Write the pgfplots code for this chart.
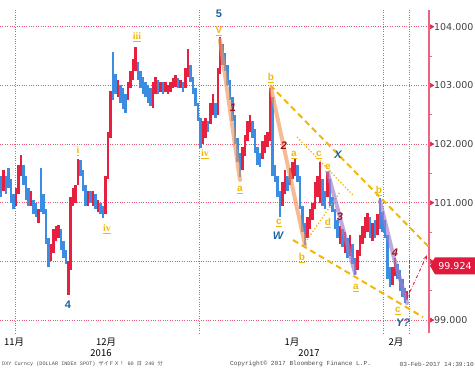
\documentclass[border=0pt]{standalone}
\usepackage{pgfplots}
\usepackage{pgfplotstable}
\pgfplotsset{compat=1.18}
\usepackage{fontspec}
\usetikzlibrary{arrows.meta}
\newfontfamily\cjk{Noto Sans CJK JP}
\newfontfamily\dejavu{DejaVu Sans}
\newfontfamily\libsans{Liberation Sans}
\newfontfamily\libserif{Liberation Serif}
\newfontfamily\mono{Liberation Mono}
\definecolor{upred}{RGB}{232,32,64}
\definecolor{dnblue}{RGB}{60,140,225}
\definecolor{gridpink}{RGB}{230,90,120}
\definecolor{axpink}{RGB}{235,100,130}
\definecolor{gold}{RGB}{240,185,10}
\definecolor{wblue}{RGB}{25,100,160}
\definecolor{wred}{RGB}{160,15,30}
\definecolor{orangeline}{RGB}{240,150,90}
\definecolor{purpline}{RGB}{160,125,200}
\definecolor{tagred}{RGB}{225,25,60}

\pgfplotstableread{
x l h
3.5 101.20 101.55
16 100.95 101.25
18.5 101.15 101.65
21 101.45 101.82
31 100.95 101.20
38.5 100.65 100.90
51 100.00 100.30
53.5 100.15 100.55
56 100.35 100.60
58.5 100.40 100.62
68.5 99.43 100.00
70.5 99.85 101.10
73 100.95 101.25
75.5 101.00 101.30
78 101.30 101.75
88 100.95 101.20
93 100.95 101.20
98 100.85 101.05
105.5 100.80 101.45
108 101.40 102.20
110.5 102.10 102.90
118 102.80 103.10
128 102.75 103.05
130.5 102.95 103.25
133 103.10 103.45
135.5 103.25 103.66
153 102.62 103.05
155.5 102.85 103.15
160.5 102.88 103.05
165.5 102.88 103.05
168 102.85 103.00
170.5 102.88 103.05
173 102.95 103.12
175.5 102.98 103.18
180.5 102.95 103.10
185.5 102.95 103.30
188 103.15 103.62
203 102.00 102.40
205.5 102.10 102.45
210.5 102.35 102.70
213 102.50 102.85
218 102.50 103.30
220 103.20 103.83
242.5 101.55 101.95
245 101.80 102.15
247.5 102.05 102.40
250 102.20 102.50
262.5 101.75 102.05
265 101.85 102.15
267.5 101.95 102.20
270 102.05 102.96
282.5 100.95 101.35
285 101.15 101.55
290 101.30 101.60
292.5 101.40 101.70
295 101.45 101.76
307.5 100.40 100.75
310 100.55 100.90
312.5 100.70 101.00
315 100.90 101.35
317.5 101.10 101.45
320 101.00 101.70
327.5 101.10 101.53
340 100.30 100.60
345 100.15 100.50
350 100.10 100.45
357.5 99.85 100.20
360 100.10 100.45
362.5 100.30 100.60
365 100.40 100.75
367.5 100.50 100.83
372.5 100.35 100.65
377.5 100.45 100.80
392.5 99.60 99.90
395 99.75 100.06
407 99.35 99.50
}\upt

\pgfplotstableread{
x l h
1 101.10 101.45
6 101.15 101.45
8.5 101.25 101.60
11 101.00 101.40
13.5 100.90 101.15
23.5 101.30 101.65
26 101.05 101.45
28.5 100.95 101.25
33.5 100.80 101.05
36 100.75 101.00
41 100.85 101.60
43.5 100.80 101.15
46 100.30 100.90
48.5 99.90 100.40
61 100.20 100.55
63.5 100.05 100.35
66 99.95 100.20
80.5 101.45 101.72
83 101.20 101.55
85.5 100.95 101.30
90.5 101.00 101.20
95.5 100.90 101.15
100.5 100.80 101.00
103 100.74 100.95
113 102.75 103.57
115.5 102.85 103.20
120.5 102.70 103.00
123 102.60 102.95
125.5 102.53 102.85
138 103.10 103.40
140.5 102.95 103.25
143 102.85 103.15
145.5 102.80 103.05
148 102.70 103.00
150.5 102.65 102.95
158 102.85 103.10
163 102.85 103.05
178 102.95 103.12
183 102.88 103.05
190.5 103.05 103.35
193 102.85 103.15
195.5 102.65 102.95
198 102.40 102.70
200.5 101.94 102.45
208 102.20 102.40
215.5 102.45 102.70
222.5 103.35 103.70
225 103.25 103.55
227.5 103.00 103.35
230 102.75 103.10
232.5 102.40 102.80
235 102.00 102.50
237.5 101.70 102.10
240 101.44 101.85
252.5 102.10 102.40
255 101.85 102.25
257.5 101.65 101.95
260 101.61 101.85
272.5 101.45 102.80
275 101.35 101.65
277.5 101.10 101.45
280 100.76 101.20
287.5 101.20 101.45
297.5 101.35 101.65
300 100.90 101.45
302.5 100.50 100.95
305 100.28 100.65
322.5 100.95 101.40
325 100.90 101.20
330 100.95 101.40
332.5 100.84 101.10
335 100.55 100.90
337.5 100.40 100.70
342.5 100.25 100.55
347.5 100.05 100.40
352.5 99.95 100.30
355 99.77 100.05
370 100.40 100.75
375 100.40 100.70
380 100.55 101.08
382.5 100.50 100.85
385 100.40 100.70
387.5 99.70 100.45
390 99.56 99.90
397.5 99.70 99.95
400 99.50 99.85
402.5 99.40 99.70
405 99.29 99.55
}\dnt

\begin{document}
\begin{tikzpicture}
\useasboundingbox (0,-39bp) rectangle (475bp,333bp);
\begin{axis}[
  at={(0,0)}, anchor=south west,
  scale only axis, width=429bp, height=323bp,
  xmin=0, xmax=429, ymin=98.78, ymax=104.285,
  clip=false,
  axis line style={draw=none},
  xtick={15,199,383,409}, xticklabels={,,,}, xtick style={draw=none},
  ytick={99,100,101,102,103,104}, yticklabels={,,,,,},
  minor y tick num=1,
  ytick pos=right, tick align=outside,
  major tick length=0pt, minor tick length=3bp,
  y tick style={draw=axpink, line width=0.8bp},
  xmajorgrids, ymajorgrids,
  major grid style={draw=gridpink, dotted, line width=0.7bp},
]
% candles
\addplot[draw=none, mark=none, forget plot,
  error bars/.cd, y dir=plus, y explicit, error mark=none,
  error bar style={draw=dnblue, line width=2.3bp}]
  table[x=x, y=l, y error expr=\thisrow{h}-\thisrow{l}] {\dnt};
\addplot[draw=none, mark=none, forget plot,
  error bars/.cd, y dir=plus, y explicit, error mark=none,
  error bar style={draw=upred, line width=2.3bp}]
  table[x=x, y=l, y error expr=\thisrow{h}-\thisrow{l}] {\upt};

% right axis line and triangle ticks
\draw[axpink, line width=1.2bp] (axis cs:429,98.78) -- (axis cs:429,104.285);
\addplot[only marks, mark=triangle*, mark size=2.4bp, color=upred,
  mark options={rotate=-90}, forget plot]
  coordinates {(431.5,99) (431.5,100) (431.5,101) (431.5,102) (431.5,103) (431.5,104)};

% channel lines
\draw[gold, dashed, line width=2bp, dash pattern=on 6bp off 4bp]
  (axis cs:270,103.006) -- (axis cs:430,100.227);
\draw[gold, dashed, line width=2bp, dash pattern=on 6bp off 4bp]
  (axis cs:293,100.364) -- (axis cs:423,99.051);
\draw[gold, dotted, line width=1.3bp] (axis cs:297,102.120) -- (axis cs:353,101.131);
\draw[gold, dotted, line width=1.3bp] (axis cs:307,100.364) -- (axis cs:340,101.182);

% wave lines
\draw[orangeline, opacity=0.65, line width=4bp, line cap=round]
  (axis cs:220,103.773) -- (axis cs:240,101.387);
\draw[orangeline, opacity=0.65, line width=4bp, line cap=round]
  (axis cs:271,102.955) -- (axis cs:305,100.279);
\draw[purpline, opacity=0.65, line width=4bp, line cap=round]
  (axis cs:328,101.506) -- (axis cs:355,99.801);
\draw[purpline, opacity=0.65, line width=4bp, line cap=round, line join=round]
  (axis cs:380,101.029) -- (axis cs:394,100.057) -- (axis cs:407,99.290);

% projection arrow
\draw[tagred, densely dashed, line width=0.8bp] (axis cs:409,99.375) -- (axis cs:409,100.023);
\draw[tagred, dash dot, line width=0.9bp, -{Stealth[length=5bp]}]
  (axis cs:407,99.375) -- (axis cs:427,100.108);

% gold labels
\begin{scope}[every node/.style={text=gold, font=\libsans\bfseries\fontsize{10}{10}\selectfont, inner sep=0pt}]
\node at (axis cs:78,101.881) {\libserif\underline{i}};
\node at (axis cs:137,103.824) {\libserif\underline{iii}};
\node at (axis cs:107,100.551) {\libserif\underline{iv}};
\node at (axis cs:205,101.830) {\libserif\underline{iv}};
\node at (axis cs:219,103.927) {\underline{V}};
\node at (axis cs:240,101.216) {\underline{a}};
\node at (axis cs:271,103.125) {\underline{b}};
\node at (axis cs:279,100.654) {\underline{c}};
\node at (axis cs:294,101.813) {\underline{a}};
\node at (axis cs:319,101.813) {\underline{c}};
\node at (axis cs:328,101.591) {\underline{e}};
\node at (axis cs:328,100.654) {\underline{d}};
\node at (axis cs:302,100.057) {\underline{b}};
\node at (axis cs:356,99.545) {\underline{a}};
\node at (axis cs:379,101.199) {\underline{b}};
\node at (axis cs:398,99.153) {\underline{c}};
\end{scope}

% blue labels
\begin{scope}[every node/.style={text=wblue, font=\libsans\bfseries\fontsize{11}{11}\selectfont, inner sep=0pt}]
\node at (axis cs:219,104.217) {5};
\node at (axis cs:68,99.256) {4};
\node at (axis cs:278,100.432) {\itshape W};
\node at (axis cs:338,101.813) {\itshape X};
\node at (axis cs:403,98.949) {\itshape Y?};
\end{scope}

% red wave numbers
\begin{scope}[every node/.style={text=wred, font=\libsans\bfseries\itshape\fontsize{11}{11}\selectfont, inner sep=0pt}]
\node at (axis cs:233,102.614) {1};
\node at (axis cs:284,101.966) {2};
\node at (axis cs:340,100.756) {3};
\node at (axis cs:395,100.142) {4};
\end{scope}

% right tick labels
\begin{scope}[every node/.style={anchor=west, text=black!75, font=\dejavu\fontsize{9.5}{10}\selectfont, inner sep=0pt}]
\node at (axis cs:434,104) {104.000};
\node at (axis cs:434,103) {103.000};
\node at (axis cs:434,102) {102.000};
\node at (axis cs:434,101) {101.000};
\node at (axis cs:434,99) {99.000};
\end{scope}

% price tag
\fill[tagred] (axis cs:430,99.924) -- (axis cs:435,100.07) -- (axis cs:475,100.07)
  -- (axis cs:475,99.78) -- (axis cs:435,99.78) -- cycle;
\node[text=white, font=\dejavu\fontsize{9.5}{10}\selectfont, inner sep=0pt]
  at (axis cs:455,99.924) {99.924};

% month and year labels
\begin{scope}[every node/.style={text=black, font=\cjk\fontsize{9.5}{10}\selectfont, inner sep=0pt}]
\node at (axis cs:14,98.625) {11月};
\node at (axis cs:106,98.625) {12月};
\node at (axis cs:292,98.625) {1月};
\node at (axis cs:396,98.625) {2月};
\node at (axis cs:101,98.437) {2016};
\node at (axis cs:309,98.437) {2017};
\end{scope}

% footer
\node[anchor=west, text=black!70, font=\mono\fontsize{5.2}{6}\selectfont, inner sep=0pt]
  at (axis cs:2,98.25) {DXY Curncy (DOLLAR INDEX SPOT) {\cjk ザイＦＸ！} 60 {\cjk 日} 240 {\cjk 分}};
\node[anchor=west, text=black!70, font=\mono\fontsize{6.2}{7}\selectfont, inner sep=0pt]
  at (axis cs:230,98.25) {Copyright\textcopyright{} 2017 Bloomberg Finance L.P.};
\node[anchor=east, text=black!70, font=\mono\fontsize{6.2}{7}\selectfont, inner sep=0pt]
  at (axis cs:474,98.25) {03-Feb-2017 14:39:10};
\end{axis}
\end{tikzpicture}
\end{document}
